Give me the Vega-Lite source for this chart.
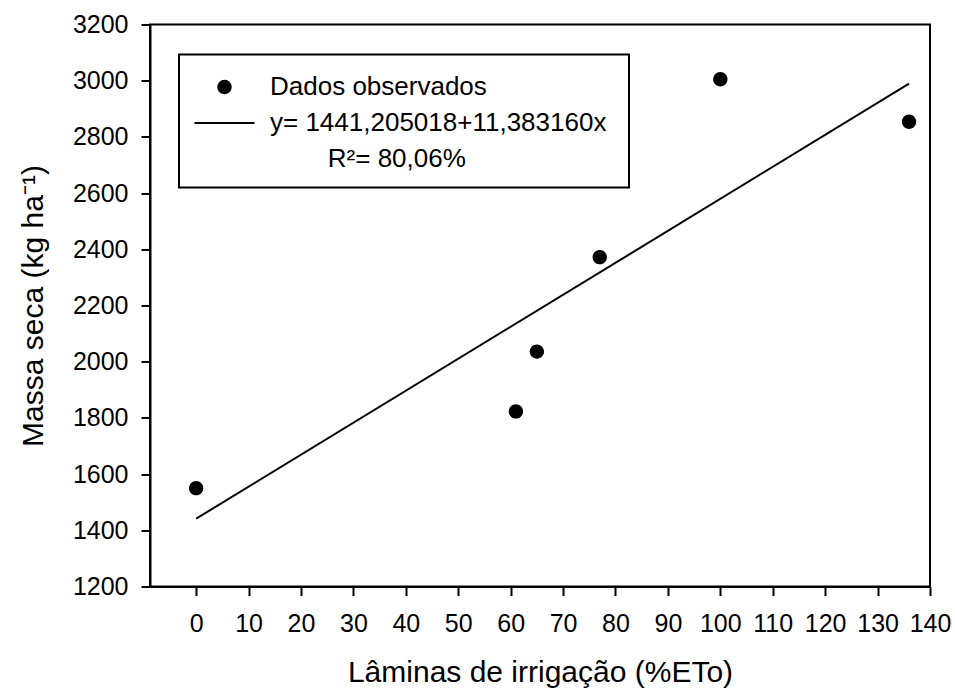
{
  "$schema": "https://vega.github.io/schema/vega-lite/v6.json",
  "width": 780,
  "height": 562,
  "autosize": "none",
  "padding": {"left": 150, "top": 24.5, "right": 25, "bottom": 102.5},
  "background": "white",
  "config": {
    "view": {"stroke": "black", "strokeWidth": 2},
    "font": "Liberation Sans",
    "legend": {"strokeWidth": 2},
    "axis": {
      "domainColor": "black",
      "domainWidth": 2,
      "tickColor": "black",
      "tickWidth": 2,
      "tickSize": 9,
      "labelFont": "Liberation Sans",
      "labelFontSize": 25,
      "labelColor": "black",
      "labelFlush": false,
      "labelOverlap": false,
      "titleFont": "Liberation Sans",
      "titleFontSize": 30,
      "titleFontWeight": "normal",
      "titleColor": "black",
      "grid": false
    }
  },
  "encoding": {
    "x": {
      "field": "x",
      "type": "quantitative",
      "scale": {"domain": [-8.8, 140], "nice": false, "zero": false},
      "axis": {
        "title": "Lâminas de irrigação (%ETo)",
        "values": [0, 10, 20, 30, 40, 50, 60, 70, 80, 90, 100, 110, 120, 130, 140],
        "format": "d",
        "labelPadding": 16,
        "titlePadding": 21
      }
    },
    "y": {
      "field": "y",
      "type": "quantitative",
      "scale": {"domain": [1200, 3200], "nice": false, "zero": false},
      "axis": {
        "title": "Massa seca (kg ha⁻¹)",
        "values": [1200, 1400, 1600, 1800, 2000, 2200, 2400, 2600, 2800, 3000, 3200],
        "format": "d",
        "labelPadding": 13,
        "titlePadding": 24
      }
    }
  },
  "layer": [
    {
      "data": {"values": [{"x": 0, "y": 1441.205}, {"x": 136, "y": 2989.335}]},
      "mark": {"type": "line", "color": "black", "strokeWidth": 2},
      "encoding": {}
    },
    {
      "data": {
        "values": [
          {"x": 0, "y": 1550},
          {"x": 61, "y": 1823},
          {"x": 65, "y": 2036},
          {"x": 77, "y": 2372},
          {"x": 100, "y": 3005},
          {"x": 136, "y": 2854}
        ]
      },
      "mark": {"type": "point", "filled": true, "color": "black", "strokeWidth": 0, "opacity": 1, "size": 1225},
      "encoding": {
        "shape": {
          "datum": "Dados observados",
          "type": "nominal",
          "scale": {
            "domain": ["Dados observados", "y= 1441,205018+11,383160x\u00a0\u200b", "\u200b\u00a0\u00a0\u00a0\u00a0\u00a0\u00a0\u00a0\u00a0R²= 80,06%"],
            "range": ["M-0.41,0A0.41,0.41,0,1,1,0.41,0A0.41,0.41,0,1,1,-0.41,0Z", "M-1.714,-0.06L1.714,-0.06L1.714,0.06L-1.714,0.06Z", "M0,0"]
          },
          "legend": {
            "title": null,
            "orient": "none",
            "legendX": 29,
            "legendY": 30,
            "padding": 15,
            "strokeColor": "black",
            "labelFont": "Liberation Sans",
            "labelFontSize": 26,
            "labelColor": "black",
            "labelLimit": 1000,
            "labelOffset": 28,
            "symbolOffset": 13,
            "symbolSize": 1225,
            "rowPadding": 5,
            "symbolFillColor": "black",
            "symbolStrokeColor": "black",
            "symbolStrokeWidth": 0,
            "symbolOpacity": 1,
            "encode": {
              "symbols": {
                "fill": {"value": "black"},
                "opacity": {"value": 1}
              },
              "legend": {"strokeWidth": {"value": 2}}
            }
          }
        }
      }
    }
  ]
}
